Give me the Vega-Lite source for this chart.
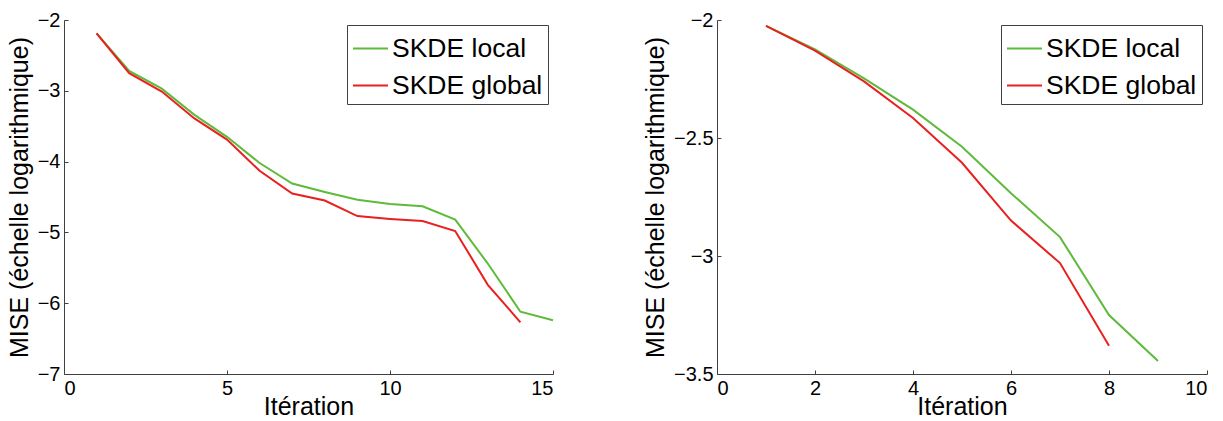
{
  "$schema": "https://vega.github.io/schema/vega-lite/v6.json",
  "background": "white",
  "padding": {"left": 7, "top": 10, "right": 5, "bottom": 0},
  "spacing": 86,
  "config": {
    "font": "Liberation Sans",
    "view": {"stroke": null},
    "axis": {
      "grid": false,
      "domainColor": "#404040",
      "tickColor": "#404040",
      "labelColor": "black",
      "titleColor": "black",
      "labelFont": "Liberation Sans",
      "titleFont": "Liberation Sans",
      "labelFontSize": 20,
      "titleFontSize": 25,
      "titleFontWeight": "normal",
      "tickSize": -4
    },
    "axisX": {"labelPadding": 8, "titlePadding": -4},
    "axisY": {"labelPadding": 8, "titlePadding": 5},
    "legend": {
      "labelFont": "Liberation Sans",
      "labelFontSize": 26.5,
      "labelColor": "black",
      "strokeColor": "#404040",
      "fillColor": "white",
      "padding": 5,
      "symbolType": "stroke",
      "symbolSize": 1225,
      "symbolStrokeWidth": 2,
      "labelOffset": 3,
      "rowPadding": 5,
      "orient": "top-right",
      "offset": 5,
      "title": null
    },
    "line": {"strokeWidth": 2}
  },
  "datasets": {
    "left": [
      {"iter": 1, "mise": -2.19, "serie": "SKDE local"},
      {"iter": 2, "mise": -2.72, "serie": "SKDE local"},
      {"iter": 3, "mise": -2.97, "serie": "SKDE local"},
      {"iter": 4, "mise": -3.34, "serie": "SKDE local"},
      {"iter": 5, "mise": -3.65, "serie": "SKDE local"},
      {"iter": 6, "mise": -4.02, "serie": "SKDE local"},
      {"iter": 7, "mise": -4.31, "serie": "SKDE local"},
      {"iter": 8, "mise": -4.43, "serie": "SKDE local"},
      {"iter": 9, "mise": -4.54, "serie": "SKDE local"},
      {"iter": 10, "mise": -4.60, "serie": "SKDE local"},
      {"iter": 11, "mise": -4.63, "serie": "SKDE local"},
      {"iter": 12, "mise": -4.82, "serie": "SKDE local"},
      {"iter": 13, "mise": -5.44, "serie": "SKDE local"},
      {"iter": 14, "mise": -6.12, "serie": "SKDE local"},
      {"iter": 15, "mise": -6.24, "serie": "SKDE local"},
      {"iter": 1, "mise": -2.19, "serie": "SKDE global"},
      {"iter": 2, "mise": -2.75, "serie": "SKDE global"},
      {"iter": 3, "mise": -3.01, "serie": "SKDE global"},
      {"iter": 4, "mise": -3.39, "serie": "SKDE global"},
      {"iter": 5, "mise": -3.69, "serie": "SKDE global"},
      {"iter": 6, "mise": -4.13, "serie": "SKDE global"},
      {"iter": 7, "mise": -4.45, "serie": "SKDE global"},
      {"iter": 8, "mise": -4.55, "serie": "SKDE global"},
      {"iter": 9, "mise": -4.77, "serie": "SKDE global"},
      {"iter": 10, "mise": -4.81, "serie": "SKDE global"},
      {"iter": 11, "mise": -4.84, "serie": "SKDE global"},
      {"iter": 12, "mise": -4.98, "serie": "SKDE global"},
      {"iter": 13, "mise": -5.74, "serie": "SKDE global"},
      {"iter": 14, "mise": -6.27, "serie": "SKDE global"}
    ],
    "right": [
      {"iter": 1, "mise": -2.025, "serie": "SKDE local"},
      {"iter": 2, "mise": -2.124, "serie": "SKDE local"},
      {"iter": 3, "mise": -2.247, "serie": "SKDE local"},
      {"iter": 4, "mise": -2.38, "serie": "SKDE local"},
      {"iter": 5, "mise": -2.537, "serie": "SKDE local"},
      {"iter": 6, "mise": -2.734, "serie": "SKDE local"},
      {"iter": 7, "mise": -2.92, "serie": "SKDE local"},
      {"iter": 8, "mise": -3.25, "serie": "SKDE local"},
      {"iter": 9, "mise": -3.445, "serie": "SKDE local"},
      {"iter": 1, "mise": -2.025, "serie": "SKDE global"},
      {"iter": 2, "mise": -2.13, "serie": "SKDE global"},
      {"iter": 3, "mise": -2.26, "serie": "SKDE global"},
      {"iter": 4, "mise": -2.415, "serie": "SKDE global"},
      {"iter": 5, "mise": -2.605, "serie": "SKDE global"},
      {"iter": 6, "mise": -2.85, "serie": "SKDE global"},
      {"iter": 7, "mise": -3.03, "serie": "SKDE global"},
      {"iter": 8, "mise": -3.38, "serie": "SKDE global"}
    ]
  },
  "resolve": {"scale": {"color": "independent"}, "legend": {"color": "independent"}},
  "hconcat": [
    {
      "width": 489,
      "height": 354,
      "data": {"name": "left"},
      "mark": {"type": "line", "strokeWidth": 2},
      "encoding": {
        "x": {"field": "iter", "type": "quantitative", "title": "Itération",
              "scale": {"domain": [0, 15], "nice": false},
              "axis": {"values": [0, 5, 10, 15]}},
        "y": {"field": "mise", "type": "quantitative", "title": "MISE (échelle logarithmique)",
              "scale": {"domain": [-7, -2], "nice": false, "zero": false},
              "axis": {"values": [-7, -6, -5, -4, -3, -2], "format": "~g"}},
        "color": {"field": "serie", "type": "nominal",
                  "scale": {"domain": ["SKDE local", "SKDE global"], "range": ["#5eba3b", "#e8201f"]},
                  "legend": {"title": null}},
        "order": {"field": "iter"}
      }
    },
    {
      "width": 490,
      "height": 354,
      "data": {"name": "right"},
      "mark": {"type": "line", "strokeWidth": 2},
      "encoding": {
        "x": {"field": "iter", "type": "quantitative", "title": "Itération",
              "scale": {"domain": [0, 10], "nice": false},
              "axis": {"values": [0, 2, 4, 6, 8, 10]}},
        "y": {"field": "mise", "type": "quantitative", "title": "MISE (échelle logarithmique)",
              "scale": {"domain": [-3.5, -2], "nice": false, "zero": false},
              "axis": {"values": [-3.5, -3, -2.5, -2], "format": "~g"}},
        "color": {"field": "serie", "type": "nominal",
                  "scale": {"domain": ["SKDE local", "SKDE global"], "range": ["#5eba3b", "#e8201f"]},
                  "legend": {"title": null}},
        "order": {"field": "iter"}
      }
    }
  ]
}
